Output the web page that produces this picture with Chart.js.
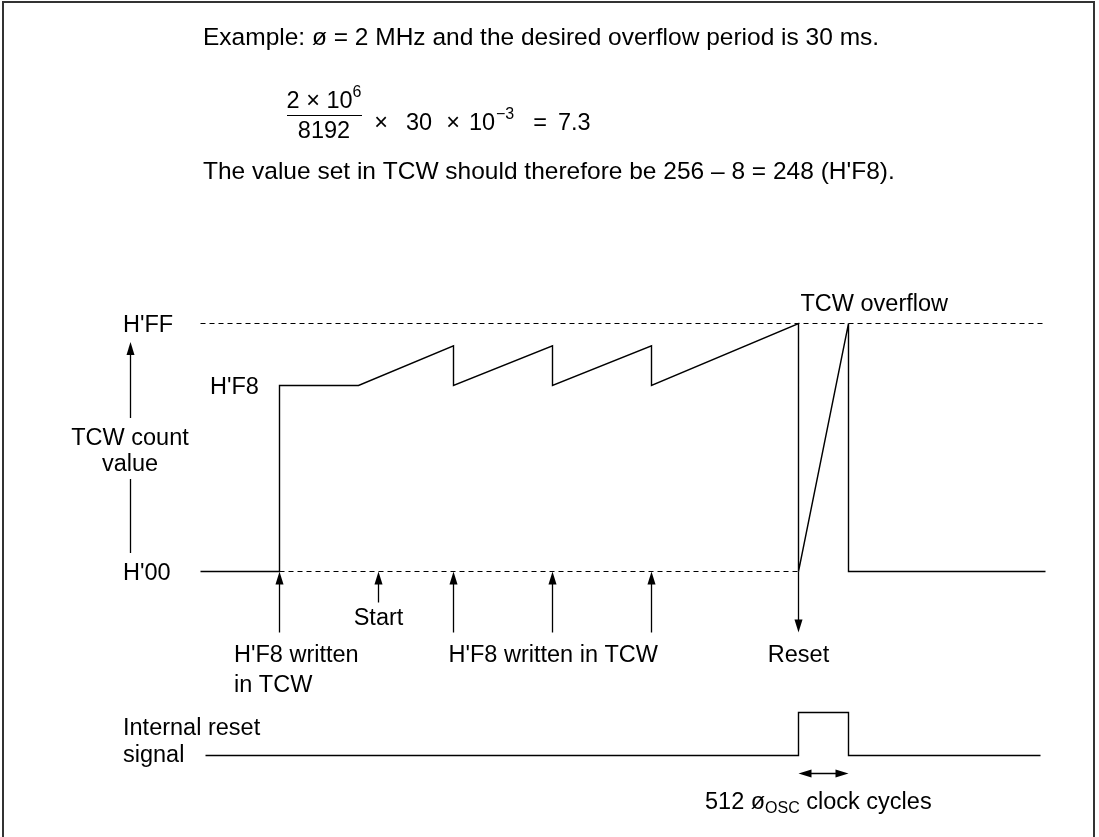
<!DOCTYPE html>
<html>
<head>
<meta charset="utf-8">
<script src="https://cdn.jsdelivr.net/npm/chart.js@4.4.1/dist/chart.umd.min.js"></script>
<style>
  html, body { margin: 0; padding: 0; background: #fff; }
</style>
</head>
<body>
<canvas id="wdt" width="1099" height="837"></canvas>
<script>
/* --------------- Timing data (time in diagram units, count level: 0 = H'00, 100 = H'FF) --------------- */
const countTimes  = [0, 79, 79, 158, 253, 253, 352, 352, 451, 451, 598, 598, 648, 648, 845];
const countLevels = [0, 0, 75, 75, 91, 75, 91, 75, 91, 75, 100, 0, 100, 0, 0];

const resetTimes  = [5, 598, 598, 648, 648, 840];
const resetLevels = [0, 0, 1, 1, 0, 0];

const levelValues = [100, 75, 0];
const levelLabels = ["H'FF", "H'F8", "H'00"];

const writeTimes   = [79, 253, 352, 451];
const startTime    = 178;
const overflowTime = 598;
const resetEndTime = 648;
const traceEnd     = 845;

const FONT = '"Liberation Sans", Arial, Helvetica, sans-serif';
const INK = "#000";
const LABEL = 23.5;
const BODY = 24.5;

const pts = (xs, ys) => xs.map((x, i) => ({ x: x, y: ys[i] }));

/* --------------- Drawing helpers --------------- */
function txt(ctx, s, x, y, align, size) {
  ctx.font = (size || LABEL) + "px " + FONT;
  ctx.textAlign = align || "left";
  ctx.textBaseline = "middle";
  ctx.fillStyle = INK;
  ctx.fillText(s, x, y + 2);
}

// runs of text with super/subscripts, parts = [[text, size, dy], ...]
function runs(ctx, parts, x, y, align) {
  let w = 0;
  parts.forEach(p => { ctx.font = p[1] + "px " + FONT; w += ctx.measureText(p[0]).width; });
  let cx = align === "center" ? x - w / 2 : x;
  ctx.textAlign = "left";
  ctx.textBaseline = "middle";
  ctx.fillStyle = INK;
  parts.forEach(p => {
    ctx.font = p[1] + "px " + FONT;
    ctx.fillText(p[0], cx, y + 2 + p[2]);
    cx += ctx.measureText(p[0]).width;
  });
  return w;
}

function line(ctx, x1, y1, x2, y2, w) {
  ctx.beginPath();
  ctx.lineWidth = w || 1.3;
  ctx.strokeStyle = INK;
  ctx.moveTo(x1, y1);
  ctx.lineTo(x2, y2);
  ctx.stroke();
}

function head(ctx, x, y, dx, dy) {
  // filled arrow head with tip at (x,y), pointing along (dx,dy)
  const len = 13, half = 4;
  const bx = x - dx * len, by = y - dy * len;
  ctx.beginPath();
  ctx.fillStyle = INK;
  ctx.moveTo(x, y);
  ctx.lineTo(bx - dy * half, by + dx * half);
  ctx.lineTo(bx + dy * half, by - dx * half);
  ctx.closePath();
  ctx.fill();
}

function vArrow(ctx, x, yFrom, yTo) {
  const d = yTo > yFrom ? 1 : -1;
  line(ctx, x, yFrom, x, yTo - d * 10);
  head(ctx, x, yTo, 0, d);
}

/* --------------- Annotations plugin --------------- */
const diagramText = {
  id: "diagramText",
  afterDatasetsDraw(chart) {
    const ctx = chart.ctx;
    const xs = chart.scales.x, ys = chart.scales.y, yr = chart.scales.yRst;
    const X = t => xs.getPixelForValue(t);
    const y0 = ys.getPixelForValue(0);
    ctx.save();

    // frame
    ctx.beginPath();
    ctx.strokeStyle = "#333";
    ctx.lineWidth = 2;
    ctx.moveTo(3, 837);
    ctx.lineTo(3, 2);
    ctx.lineTo(1094, 2);
    ctx.lineTo(1094, 837);
    ctx.stroke();

    // header text and formula
    txt(ctx, "Example: \u00f8 = 2 MHz and the desired overflow period is 30 ms.", 203, 36, "left", BODY);
    runs(ctx, [["2 \u00d7 10", LABEL, 0], ["6", 16, -9]], 324, 100, "center");
    line(ctx, 287, 115.5, 362, 115.5, 1.2);
    txt(ctx, "8192", 324, 130, "center");
    txt(ctx, "\u00d7", 381, 122, "center");
    txt(ctx, "30", 406, 122);
    txt(ctx, "\u00d7", 453, 122, "center");
    txt(ctx, "10", 469, 122);
    runs(ctx, [["\u22123", 16, -9]], 496, 122);
    txt(ctx, "=", 540, 122, "center");
    txt(ctx, "7.3", 558, 122);
    txt(ctx, "The value set in TCW should therefore be 256 \u2013 8 = 248 (H'F8).", 203, 170, "left", BODY);

    // level labels
    txt(ctx, levelLabels[0], 123, ys.getPixelForValue(levelValues[0]));
    txt(ctx, levelLabels[1], 210, ys.getPixelForValue(levelValues[1]));
    txt(ctx, levelLabels[2], 123, ys.getPixelForValue(levelValues[2]));

    // vertical axis caption with arrow
    vArrow(ctx, 130.5, 418, 342);
    txt(ctx, "TCW count", 130, 437, "center");
    txt(ctx, "value", 130, 463, "center");
    line(ctx, 130.5, 479, 130.5, 553);

    // write / start arrows
    writeTimes.forEach(t => vArrow(ctx, X(t), y0 + 61, y0));
    vArrow(ctx, X(startTime), y0 + 31, y0);
    txt(ctx, "Start", X(startTime), y0 + 45, "center");
    txt(ctx, "H'F8 written", 234, y0 + 82);
    txt(ctx, "in TCW", 234, y0 + 112);
    txt(ctx, "H'F8 written in TCW", X(writeTimes[1]) - 5, y0 + 82);

    // overflow / reset
    txt(ctx, "TCW overflow", X(overflowTime) + 2, ys.getPixelForValue(100) - 21);
    vArrow(ctx, X(overflowTime), y0, y0 + 61);
    txt(ctx, "Reset", X(overflowTime), y0 + 82, "center");

    // internal reset signal
    const r0 = yr.getPixelForValue(0);
    txt(ctx, "Internal reset", 123, r0 - 29);
    txt(ctx, "signal", 123, r0 - 2);

    const xa = X(overflowTime), xb = X(resetEndTime), ya = r0 + 18;
    line(ctx, xa + 8, ya, xb - 8, ya);
    head(ctx, xa, ya, -1, 0);
    head(ctx, xb, ya, 1, 0);
    runs(ctx, [["512 \u00f8", LABEL, 0], ["OSC", 16, 6], [" clock cycles", LABEL, 0]], 705, r0 + 45);

    ctx.restore();
  }
};

/* --------------- Chart --------------- */
new Chart(document.getElementById("wdt"), {
  type: "line",
  data: {
    datasets: [
      {
        label: "H'FF guide",
        data: pts([0, traceEnd], [100, 100]),
        borderColor: INK, borderWidth: 1.1, borderDash: [5, 4],
      },
      {
        label: "H'00 guide",
        data: pts([writeTimes[0], overflowTime], [0, 0]),
        borderColor: INK, borderWidth: 1.1, borderDash: [5, 4],
      },
      {
        label: "TCW count",
        data: pts(countTimes, countLevels),
        borderColor: INK, borderWidth: 1.4,
      },
      {
        label: "Internal reset",
        data: pts(resetTimes, resetLevels),
        borderColor: INK, borderWidth: 1.4,
        yAxisID: "yRst",
      },
    ],
  },
  options: {
    responsive: false,
    animation: false,
    events: [],
    layout: { padding: 0 },
    elements: { point: { radius: 0 }, line: { tension: 0 } },
    plugins: { legend: { display: false }, tooltip: { enabled: false } },
    scales: {
      x: { type: "linear", min: -200.5, max: 898.5, display: false },
      y: { type: "linear", min: -107.056, max: 230.444, display: false },
      yRst: { type: "linear", min: -1.895, max: 17.57, display: false },
    },
  },
  plugins: [diagramText],
});
</script>
</body>
</html>
